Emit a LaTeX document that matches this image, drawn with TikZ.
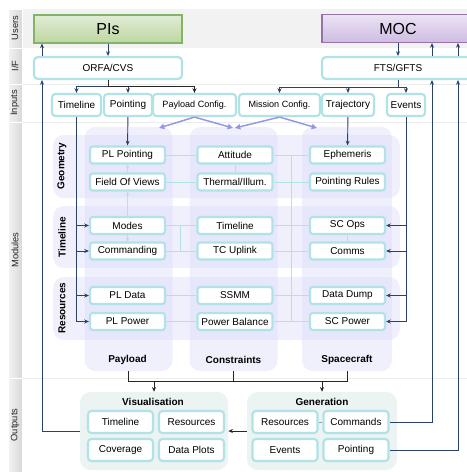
\documentclass[tikz,border=0pt]{standalone}
\usepackage{fontspec}
\setmainfont{Liberation Sans}
\usetikzlibrary{arrows.meta,positioning,calc}
\definecolor{linkblue}{RGB}{42,66,104}
\definecolor{tealedge}{RGB}{176,226,230}
\definecolor{modbg}{RGB}{214,214,250}
\definecolor{outbg}{RGB}{235,243,243}
\definecolor{lanegray}{RGB}{242,242,242}
\definecolor{pistop}{RGB}{224,236,214}
\definecolor{pisbot}{RGB}{190,214,160}
\definecolor{pisedge}{RGB}{130,179,102}
\definecolor{moctop}{RGB}{236,227,244}
\definecolor{mocbot}{RGB}{206,188,226}
\definecolor{mocedge}{RGB}{150,115,166}
\definecolor{lilac}{RGB}{150,150,228}

\begin{document}
\begin{tikzpicture}[
    x=0.75pt, y=-0.75pt,
    every node/.style={font=\fontsize{7.5}{9}\selectfont, inner sep=0pt},
    lanecell/.style={rectangle, left color=gray!10, right color=gray!30, draw=white, line width=0.6pt},
    lanelabel/.style={rotate=90, font=\fontsize{7}{8}\selectfont, text=gray!30!black},
    pisbox/.style={rectangle, top color=pistop, bottom color=pisbot, draw=pisedge, line width=0.8pt, minimum width=111pt, minimum height=21pt, font=\fontsize{12}{14}\selectfont},
    mocbox/.style={rectangle, top color=moctop, bottom color=mocbot, draw=mocedge, line width=0.8pt, minimum width=114pt, minimum height=21pt, font=\fontsize{12}{14}\selectfont},
    ifbox/.style={rectangle, rounded corners=3pt, draw=tealedge, line width=1.6pt, fill=white, minimum height=16.5pt},
    inbox/.style={rectangle, rounded corners=2.5pt, draw=tealedge, line width=1.6pt, fill=white, minimum height=16.5pt},
    modbox/.style={rectangle, rounded corners=2pt, draw=tealedge, line width=1.6pt, fill=white, minimum width=56.25pt, minimum height=12.75pt},
    outbox/.style={rectangle, rounded corners=2.5pt, draw=tealedge, line width=1.6pt, fill=white, minimum width=48.75pt, minimum height=16.5pt},
    panel/.style={rectangle, rounded corners=8pt, fill=modbg, fill opacity=0.36, text opacity=1},
    outgroup/.style={rectangle, rounded corners=8pt, fill=outbg},
    heading/.style={font=\fontsize{7.5}{9}\selectfont\bfseries},
    dlink/.style={line width=0.7pt, draw=linkblue},
    dflow/.style={->, >={Stealth[length=3.5pt,width=3pt]}, line width=0.7pt, draw=linkblue},
    mflow/.style={->, >={Stealth[length=3.5pt,width=3pt]}, line width=0.7pt, draw=black!85},
    tlink/.style={line width=0.6pt, draw=tealedge},
    tflow/.style={->, >={Stealth[length=3pt,width=2.6pt]}, line width=0.6pt, draw=tealedge},
    pflow/.style={->, >={Triangle[length=4pt,width=4pt]}, line width=1.1pt, draw=lilac}
]
\useasboundingbox (0,0) rectangle (467,472);

% Swim lanes
\fill[lanegray] (22,9) rectangle (467,48);
\draw[gray!15] (22,84) -- (467,84);
\draw[gray!15] (22,122) -- (467,122);
\draw[gray!15] (22,378) -- (467,378);
\path[lanecell] (8,9) rectangle (22,48);
\path[lanecell] (8,48) rectangle (22,84);
\path[lanecell] (8,84) rectangle (22,122);
\path[lanecell] (8,122) rectangle (22,378);
\path[lanecell] (8,378) rectangle (22,474);
\node[lanelabel] (lusers) at (15,28) {Users};
\node[lanelabel] (lif) at (15,66) {I/F};
\node[lanelabel] (linputs) at (15,103) {Inputs};
\node[lanelabel] (lmodules) at (15,250) {Modules};
\node[lanelabel] (loutputs) at (15,425) {Outputs};

% Users and interfaces
\node[pisbox] (pis) at (108,29) {PIs};
\node[mocbox] (moc) at (398,28.5) {MOC};
\node[ifbox, minimum width=111pt] (orfa) at (108,68) {ORFA/CVS};
\node[ifbox, minimum width=114pt] (fts) at (398,68) {FTS/GFTS};

% Inputs
\node[inbox, minimum width=36.75pt] (intl) at (76.5,105) {Timeline};
\node[inbox, minimum width=36pt] (inpt) at (128,105) {Pointing};
\node[inbox, minimum width=62.25pt, font=\fontsize{6.8}{8}\selectfont] (inpc) at (194.5,105) {Payload Config.};
\node[inbox, minimum width=60.75pt, font=\fontsize{6.8}{8}\selectfont] (inmc) at (279.5,105) {Mission Config.};
\node[inbox, minimum width=39pt] (intr) at (348,105) {Trajectory};
\node[inbox, minimum width=28.5pt] (inev) at (406,105) {Events};

% Module panels
\node[panel, minimum width=66pt, minimum height=183pt] (colpl) at (128.5,249) {};
\node[panel, minimum width=66pt, minimum height=183pt] (colcn) at (233.5,249) {};
\node[panel, minimum width=67.5pt, minimum height=183pt] (colsc) at (347,249) {};
\node[panel, minimum width=260pt, minimum height=47.25pt] (rowgeo) at (226.5,166.5) {};
\node[panel, minimum width=260pt, minimum height=46.5pt] (rowtl) at (226.5,237) {};
\node[panel, minimum width=260pt, minimum height=47.25pt] (rowres) at (226.5,308.5) {};
\node[heading, rotate=90] (lgeo) at (62,166) {Geometry};
\node[heading, rotate=90] (ltl) at (62,237) {Timeline};
\node[heading, rotate=90] (lres) at (62,308) {Resources};
\node[heading] (lpl) at (127.5,360) {Payload};
\node[heading] (lcn) at (233.5,360) {Constraints};
\node[heading] (lsc) at (347,360) {Spacecraft};

% Geometry modules
\node[modbox] (plpoint) at (127.5,155) {PL Pointing};
\node[modbox] (fov) at (127.5,182) {Field Of Views};
\node[modbox] (att) at (235,155) {Attitude};
\node[modbox] (therm) at (235,182) {Thermal/Illum.};
\node[modbox] (ephem) at (347.5,155) {Ephemeris};
\node[modbox] (prules) at (347.5,182) {Pointing Rules};

% Timeline modules
\node[modbox] (modes) at (127.5,225.5) {Modes};
\node[modbox] (cmding) at (127.5,251) {Commanding};
\node[modbox] (ctl) at (235,225.5) {Timeline};
\node[modbox] (tcup) at (235,251) {TC Uplink};
\node[modbox] (scops) at (347.5,225.5) {SC Ops};
\node[modbox] (comms) at (347.5,251) {Comms};

% Resources modules
\node[modbox] (pldata) at (127.5,295.5) {PL Data};
\node[modbox] (plpwr) at (127.5,321.5) {PL Power};
\node[modbox] (ssmm) at (235,295.5) {SSMM};
\node[modbox] (pwrbal) at (235,321.5) {Power Balance};
\node[modbox] (dump) at (347.5,295.5) {Data Dump};
\node[modbox] (scpwr) at (347.5,321.5) {SC Power};

% Outputs
\node[outgroup, minimum width=111pt, minimum height=58.5pt] (vis) at (154,431) {};
\node[outgroup, minimum width=112.5pt, minimum height=58.5pt] (gen) at (322,431) {};
\node[heading] (vistitle) at (153,402) {Visualisation};
\node[heading] (gentitle) at (322,402) {Generation};
\node[outbox] (vtl) at (120.5,422) {Timeline};
\node[outbox] (vres) at (191.5,422) {Resources};
\node[outbox] (vcov) at (120.5,450) {Coverage};
\node[outbox] (vplot) at (191.5,450) {Data Plots};
\node[outbox] (gres) at (285,422) {Resources};
\node[outbox] (gcmd) at (356,422) {Commands};
\node[outbox] (gev) at (285,450) {Events};
\node[outbox] (gpnt) at (356,450) {Pointing};

% Bus coordinates
\coordinate (ibusL) at (0,86);
\coordinate (ibusR) at (0,87);
\coordinate (lbus) at (42,0);
\coordinate (rbusA) at (432,0);
\coordinate (rbusB) at (458,0);
\coordinate (cbusA) at (180,0);
\coordinate (cbusB) at (291,0);
\coordinate (mrg) at (0,381);
\coordinate (pcA) at (159,128);
\coordinate (pcB) at (233,128);
\coordinate (mcA) at (235,128);
\coordinate (mcB) at (317,128);

% Users <-> interfaces
\draw[dflow] (pis) -- (orfa);
\draw[dflow] (moc) -- (fts);
\draw[dflow] (orfa.north -| lbus) -- (pis.south -| lbus);
\draw[dflow] (fts.north -| rbusA) -- (moc.south -| rbusA);
\draw[dflow] (fts.north -| rbusB) -- (moc.south -| rbusB);

% Interfaces to inputs
\draw[dflow] (orfa.south) -- (orfa.south |- ibusL) -| (intl.north);
\draw[dflow] (orfa.south) -- (orfa.south |- ibusL) -| (inpt.north);
\draw[mflow] (orfa.south) -- (orfa.south |- ibusL) -| (inpc.north);
\draw[dflow] (fts.south) -- (fts.south |- ibusR) -| (inmc.north);
\draw[dflow] (fts.south) -- (fts.south |- ibusR) -| (intr.north);
\draw[dflow] (fts.south) -- (fts.south |- ibusR) -| (inev.north);

% Configurations into modules
\draw[pflow] (inpc.south) -- (pcA);
\draw[pflow] (inpc.south) -- (pcB);
\draw[pflow] (inmc.south) -- (mcA);
\draw[pflow] (inmc.south) -- (mcB);

% Inputs to modules
\draw[dflow] (inpt) -- (plpoint);
\draw[dflow] (intr) -- (ephem);
\draw[dflow] (intl.south) |- (plpwr);
\draw[dflow] (intl.south |- modes) -- (modes);
\draw[dflow] (intl.south |- cmding) -- (cmding);
\draw[dflow] (intl.south |- pldata) -- (pldata);
\draw[dflow] (inev.south) |- (scpwr);
\draw[dflow] (inev.south |- scops) -- (scops);
\draw[dflow] (inev.south |- comms) -- (comms);
\draw[dflow] (inev.south |- dump) -- (dump);

% Links between modules
\draw[tlink] (plpoint) -- (att);
\draw[tlink] (att) -- (ephem);
\draw[tlink] (fov) -- (therm);
\draw[tlink] (therm) -- (prules);
\draw[tlink] (att) -- (therm);
\draw[tlink] (modes) -- (ctl);
\draw[tlink] (ctl) -- (scops);
\draw[tlink] (cmding) -- (tcup);
\draw[tlink] (tcup) -- (comms);
\draw[tlink] (scops) -- (comms);
\draw[tlink] (pldata) -- (ssmm);
\draw[tlink] (ssmm) -- (dump);
\draw[tlink] (plpwr) -- (pwrbal);
\draw[tlink] (pwrbal) -- (scpwr);
\draw[tlink] (modes.east -| cbusA) -- (cmding.east -| cbusA);
\draw[tlink] (att.east -| cbusB) -- (pwrbal.east -| cbusB);
\draw[tflow] (fov) -- (plpoint);
\draw[tflow] (modes) -- (fov);
\draw[tflow] (modes) -- (cmding);

% Modules to outputs
\draw[dlink, draw=black!85] (colpl.south) -- (colpl.south |- mrg) -- (colsc.south |- mrg) -- (colsc.south);
\draw[dlink, draw=black!85] (colcn.south) -- (colcn.south |- mrg);
\draw[mflow] (vis.north |- mrg) -- (vis.north);
\draw[mflow] (gen.north |- mrg) -- (gen.north);
\draw[mflow] (gen) -- (vis);
\draw[dlink, draw=gray!80] (gres) -- (gcmd);

% Feedback to users
\draw[dflow] (vis.west) -| (orfa.south -| lbus);
\draw[dflow] (gcmd.east) -| (fts.south -| rbusA);
\draw[dflow] (gpnt.east) -| (fts.south -| rbusB);

\end{tikzpicture}
\end{document}
